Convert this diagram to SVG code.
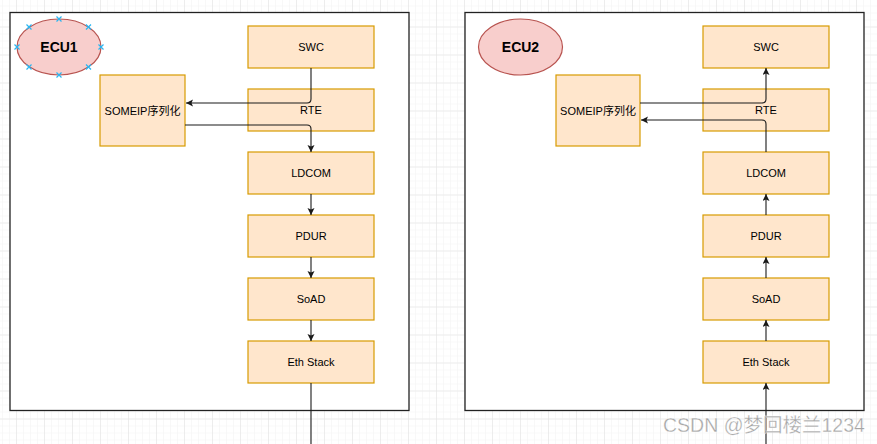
<svg xmlns="http://www.w3.org/2000/svg" width="877" height="444" viewBox="0 0 877 444">
<style>
.box{fill:#ffe6cc;stroke:#d79b00;stroke-width:1.2}
.ell{fill:#f8cecc;stroke:#b85450;stroke-width:1.2}
.ecu{fill:#ffffff;stroke:#222;stroke-width:1.3}
.lbl{font-family:"Liberation Sans","Noto Sans CJK SC",Arial,sans-serif;font-size:11px;fill:#000;text-anchor:middle;dominant-baseline:central}
.big{font-family:"Liberation Sans",Arial,sans-serif;font-size:14px;font-weight:bold;fill:#000;text-anchor:middle;dominant-baseline:central}
.con{fill:none;stroke:#1a1a1a;stroke-width:1.1}
.sel{stroke:#29b6f2;stroke-width:1.2;fill:none}
</style>
<defs>
<pattern id="minor" width="7" height="7" patternUnits="userSpaceOnUse" x="16" y="26.5">
<path d="M0,0 H7 M0,0 V7" stroke="#f2f2f2" stroke-width="1" fill="none"/>
</pattern>
<pattern id="major" width="28" height="28" patternUnits="userSpaceOnUse" x="16" y="26.5">
<path d="M0,0 H28 M0,0 V28" stroke="#e2e2e2" stroke-width="1" fill="none"/>
</pattern>
<marker id="arr" markerWidth="8" markerHeight="8" refX="7" refY="3.5" orient="auto" markerUnits="userSpaceOnUse">
<path d="M0,0 L7,3.5 L0,7 L1.5,3.5 z" fill="#1a1a1a"/>
</marker>
</defs>
<rect width="877" height="444" fill="#ffffff"/>
<rect width="877" height="444" fill="url(#minor)"/>
<rect width="877" height="444" fill="url(#major)"/>

<g id="ecu1-container"><rect class="ecu" x="10" y="12.5" width="399" height="398"/></g>
<g id="ecu2-container"><rect class="ecu" x="465" y="12.5" width="399" height="398"/></g>

<g id="ecu1-label">
<ellipse class="ell" cx="59" cy="47" rx="42" ry="28"/>
<text class="big" x="59" y="47">ECU1</text>
<g class="sel">
<path d="M14.5,44.5l5,5m0,-5l-5,5"/>
<path d="M98.5,44.5l5,5m0,-5l-5,5"/>
<path d="M56.5,16.5l5,5m0,-5l-5,5"/>
<path d="M56.5,72.5l5,5m0,-5l-5,5"/>
<path d="M26.5,24.5l5,5m0,-5l-5,5"/>
<path d="M86,24.5l5,5m0,-5l-5,5"/>
<path d="M26.5,64.5l5,5m0,-5l-5,5"/>
<path d="M86,64.5l5,5m0,-5l-5,5"/>
</g>
</g>
<g id="ecu1-swc"><rect class="box" x="248" y="26" width="126" height="42"/><text class="lbl" x="311" y="47">SWC</text></g>
<g id="ecu1-rte"><rect class="box" x="248" y="89" width="126" height="42"/><text class="lbl" x="311" y="110">RTE</text></g>
<g id="ecu1-someip"><rect class="box" x="100" y="75" width="85" height="71"/><text class="lbl" x="142.5" y="110.5">SOMEIP序列化</text></g>
<g id="ecu1-ldcom"><rect class="box" x="248" y="152" width="126" height="42"/><text class="lbl" x="311" y="173">LDCOM</text></g>
<g id="ecu1-pdur"><rect class="box" x="248" y="215" width="126" height="42"/><text class="lbl" x="311" y="236">PDUR</text></g>
<g id="ecu1-soad"><rect class="box" x="248" y="278" width="126" height="42"/><text class="lbl" x="311" y="299">SoAD</text></g>
<g id="ecu1-eth"><rect class="box" x="248" y="341" width="126" height="42"/><text class="lbl" x="311" y="362">Eth Stack</text></g>

<g id="ecu2-label">
<ellipse class="ell" cx="520.5" cy="47" rx="42" ry="28"/>
<text class="big" x="520.5" y="47">ECU2</text>
</g>
<g id="ecu2-swc"><rect class="box" x="703" y="26" width="126" height="42"/><text class="lbl" x="766" y="47">SWC</text></g>
<g id="ecu2-rte"><rect class="box" x="703" y="89" width="126" height="42"/><text class="lbl" x="766" y="110">RTE</text></g>
<g id="ecu2-someip"><rect class="box" x="556" y="75" width="84" height="71"/><text class="lbl" x="598" y="110.5">SOMEIP序列化</text></g>
<g id="ecu2-ldcom"><rect class="box" x="703" y="152" width="126" height="42"/><text class="lbl" x="766" y="173">LDCOM</text></g>
<g id="ecu2-pdur"><rect class="box" x="703" y="215" width="126" height="42"/><text class="lbl" x="766" y="236">PDUR</text></g>
<g id="ecu2-soad"><rect class="box" x="703" y="278" width="126" height="42"/><text class="lbl" x="766" y="299">SoAD</text></g>
<g id="ecu2-eth"><rect class="box" x="703" y="341" width="126" height="42"/><text class="lbl" x="766" y="362">Eth Stack</text></g>

<g id="connectors">
<path class="con" d="M311,68 V99 Q311,103 307,103 H186" marker-end="url(#arr)"/>
<path class="con" d="M185,125 H307 Q311,125 311,129 V152" marker-end="url(#arr)"/>
<path class="con" d="M311,194 V215" marker-end="url(#arr)"/>
<path class="con" d="M311,257 V278" marker-end="url(#arr)"/>
<path class="con" d="M311,320 V341" marker-end="url(#arr)"/>
<path class="con" d="M311,383 V450"/>
<path class="con" d="M766,450 V383" marker-end="url(#arr)"/>
<path class="con" d="M766,341 V320" marker-end="url(#arr)"/>
<path class="con" d="M766,278 V257" marker-end="url(#arr)"/>
<path class="con" d="M766,215 V194" marker-end="url(#arr)"/>
<path class="con" d="M766,152 V124 Q766,120 762,120 H641" marker-end="url(#arr)"/>
<path class="con" d="M640,103 H762 Q766,103 766,99 V68" marker-end="url(#arr)"/>
</g>

<text x="663" y="432" font-family="'Liberation Sans','Noto Sans CJK SC',sans-serif" font-size="19.5" fill="#9a9a9a" stroke="#ffffff" stroke-width="0.3" fill-opacity="0.9">CSDN @梦回楼兰1234</text>
</svg>
